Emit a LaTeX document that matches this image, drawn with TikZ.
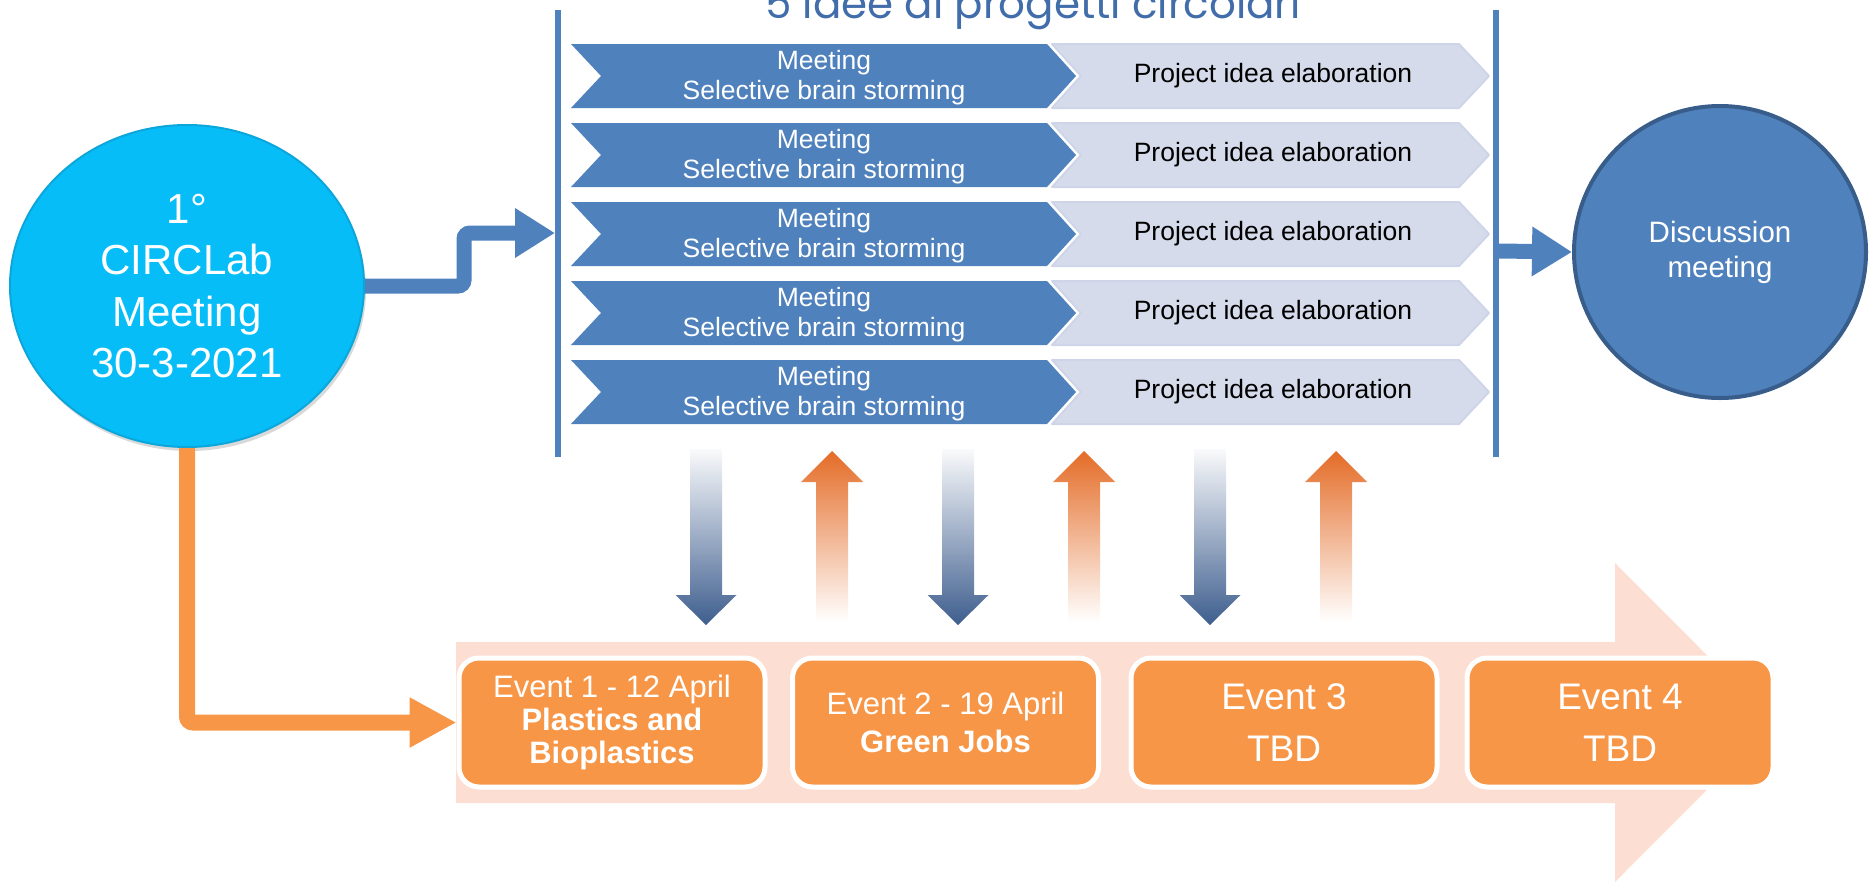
\documentclass[tikz,border=0pt]{standalone}
\usepackage{fontspec}
\setmainfont{Liberation Sans}
\newfontfamily\titlefont{Poppins}
\usepackage{tikz}
\usetikzlibrary{arrows.meta,shapes.geometric,shadows}
\definecolor{panelblue}{HTML}{4F81BD}
\definecolor{discedge}{HTML}{385D8A}
\definecolor{kickcyan}{HTML}{06BDF8}
\definecolor{kickedge}{HTML}{0CA6DA}
\definecolor{elabgrey}{HTML}{D5DBEA}
\definecolor{elabedge}{HTML}{CED5E8}
\definecolor{evorange}{HTML}{F79646}
\definecolor{bandpeach}{HTML}{FCDED3}
\definecolor{downblue}{HTML}{3E5E8E}
\definecolor{uporange}{HTML}{E46C27}
\definecolor{titleblue}{HTML}{416DAA}
\def\setfs#1#2{\fontsize{#1}{#2}\selectfont}

\tikzset{
	bluelink/.style={draw=panelblue, line width=15pt, rounded corners=6pt, -{Triangle[length=40pt,width=47pt]}},
	orangelink/.style={draw=evorange, line width=16pt, rounded corners=6pt, -{Triangle[length=47pt,width=47pt]}},
	meettxt/.style={text=white, align=center, font=\setfs{26.5}{30}},
	elabtxt/.style={text=black, font=\setfs{26.5}{30}},
	evbox/.style={rounded corners=20pt, fill=evorange, draw=white, line width=5pt, minimum width=306pt, minimum height=129pt, inner sep=0pt, text=white, align=center},
}

\begin{document}
\begin{tikzpicture}[x=1pt,y=-1pt]
	%%%%% START %%%%%
	\useasboundingbox (0,0) rectangle (1874,884);
	\clip (0,0) rectangle (1874,884);
	
	\node[anchor=base, text=titleblue, font=\titlefont\setfs{42}{48}] (title) at (1033,18) {5 idee di progetti circolari};
	
	% the two bars round the panel
	\draw[panelblue, line width=6pt] (558,10) -- (558,457);
	\draw[panelblue, line width=6pt] (1496,10) -- (1496,457);
	\coordinate (inL) at (555,233);
	\coordinate (outR) at (1499,251);
	
	\foreach \y [count=\i] in {76,155,234,313,392} {
		\fill[panelblue] (571,\y-32) -- (1047,\y-32) -- (1076,\y) -- (1047,\y+32) -- (571,\y+32) -- (601,\y) -- cycle;
		\draw[elabedge, fill=elabgrey, line width=2pt, line join=round] (1052,\y-32) -- (1459,\y-32) -- (1489,\y) -- (1459,\y+32) -- (1052,\y+32) -- (1081,\y) -- cycle;
		\node[meettxt] (meet\i) at (824,\y+2) {Meeting\\Selective brain storming};
		\node[elabtxt] (elab\i) at (1273,\y) {Project idea elaboration};
	}
	
	% timeline band
	\fill[bandpeach] (456,642) -- (1615,642) -- (1615,563) -- (1774,722.5) -- (1615,882) -- (1615,803) -- (456,803) -- cycle;
	
	\foreach \x in {706,958,1210}
		\shade[top color=white!97!downblue, bottom color=downblue] (\x-16,449) -- (\x+16,449) -- (\x+16,595) -- (\x+30.5,595) -- (\x,625) -- (\x-30.5,595) -- (\x-16,595) -- cycle;
	\foreach \x in {832,1084,1336}
		\shade[top color=uporange, bottom color=white] (\x,451) -- (\x+31,482) -- (\x+16,482) -- (\x+16,622) -- (\x-16,622) -- (\x-16,482) -- (\x-31,482) -- cycle;
	
	\node[evbox, font=\setfs{31}{33}] (ev1) at (612,722.5) {Event 1 - 12 April\\\textbf{Plastics and}\\\textbf{Bioplastics}};
	\node[evbox, font=\setfs{31}{38}] (ev2) at (945.5,722.5) {Event 2 - 19 April\\\textbf{Green Jobs}};
	\node[evbox, font=\setfs{37}{52}] (ev3) at (1284,722.5) {Event 3\\TBD};
	\node[evbox, font=\setfs{37}{52}] (ev4) at (1620,722.5) {Event 4\\TBD};
	
	\node[ellipse, minimum width=354pt, minimum height=322pt, inner sep=0pt, fill=kickcyan, draw=kickedge, line width=2pt, drop shadow={opacity=0.3, shadow xshift=2pt, shadow yshift=-4pt}, text=white, align=center, font=\setfs{42}{51.5}] (kickoff) at (187,286) {1°\\CIRCLab\\Meeting\\30-3-2021};
	\node[circle, minimum size=292pt, inner sep=0pt, fill=panelblue, draw=discedge, line width=4pt, text=white, align=center, font=\setfs{29.5}{35}] (discussion) at (1720,252) {Discussion\\meeting};
	
	\draw[bluelink] (kickoff.east) -- (464,286) |- (inL);
	\draw[bluelink] (outR) -- (discussion.west);
	\draw[orangelink] (kickoff.south) |- (ev1.west);
	
	%%%%% END %%%%%
\end{tikzpicture}
\end{document}
